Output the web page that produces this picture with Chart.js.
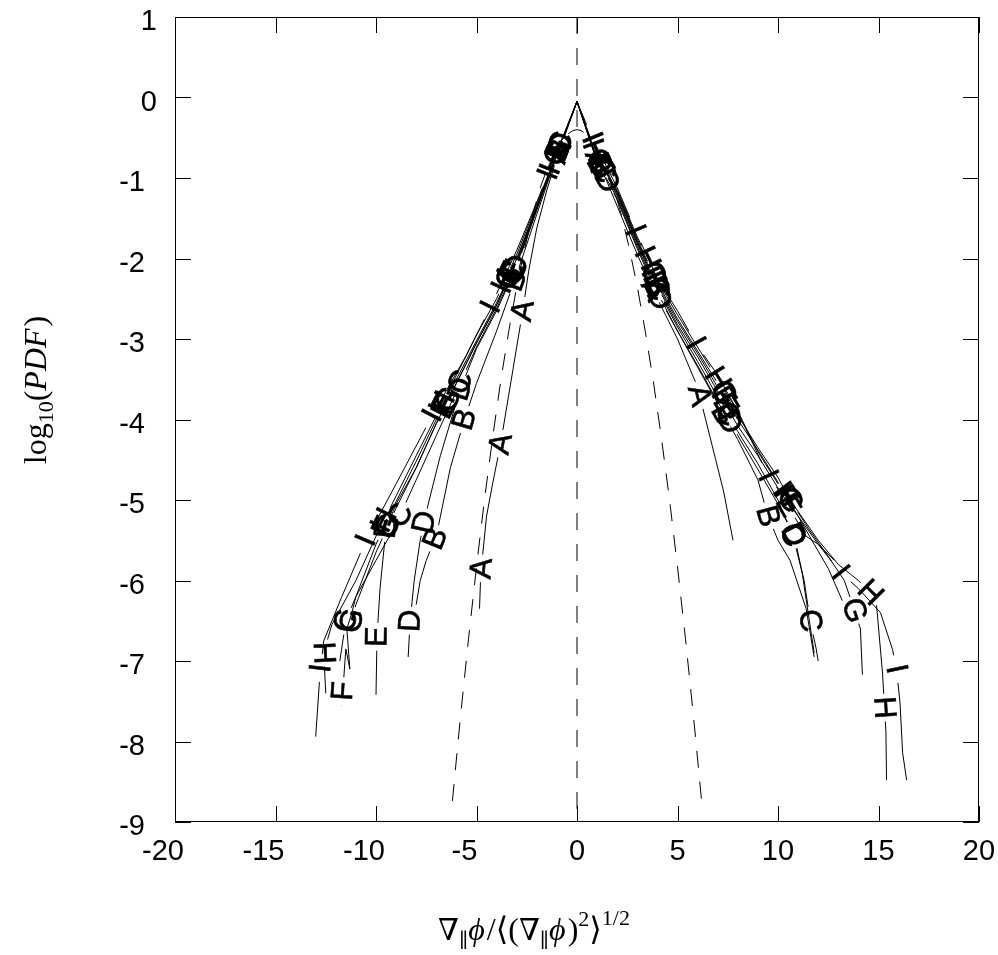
<!DOCTYPE html>
<html>
<head>
<meta charset="utf-8">
<script src="https://cdn.jsdelivr.net/npm/chart.js@4.4.1/dist/chart.umd.min.js"></script>
<style>
  html, body { margin: 0; padding: 0; background: #fff; }
  #wrap { width: 998px; height: 955px; }
</style>
</head>
<body>
<div id="wrap"><canvas id="pdf" width="998" height="955"></canvas></div>
<script>
// log10(PDF) curves, left tail -> peak -> right tail
const xA = [-4.85, -4.8, -4.7, -4.5, -4.2, -3.8, -3.4, -3.0, -2.7, -2.4, -2.0, -1.5, -1.0, -0.5, 0, 0.5, 1.0, 1.5, 2.0, 3.0, 4.0, 5.0, 6.0, 6.4, 6.9, 7.3, 7.76];
const yA = [-6.35, -6.0, -5.7, -5.2, -4.8, -4.3, -3.7, -3.1, -2.65, -2.15, -1.62, -1.15, -0.75, -0.4, -0.05, -0.42, -0.78, -1.05, -1.35, -1.95, -2.5, -3.0, -3.6, -4.0, -4.5, -4.9, -5.5];

const xB = [-8.0, -7.8, -7.5, -7.0, -6.3, -5.6, -5.0, -4.0, -3.0, -2.0, -1.0, 0, 1.0, 2.0, 3.0, 4.0, 5.0, 6.0, 7.0, 8.0, 9.0, 9.5, 10.0, 10.6, 11.4, 11.8];
const yB = [-6.3, -6.0, -5.75, -5.45, -4.6, -4.0, -3.55, -2.9, -2.2, -1.45, -0.72, -0.05, -0.8, -1.25, -1.85, -2.42, -2.9, -3.35, -3.8, -4.25, -4.75, -5.2, -5.5, -5.75, -6.35, -6.95];

const xC = [-11.8, -11.5, -11.0, -10.0, -9.0, -8.0, -7.0, -6.0, -5.0, -4.0, -3.0, -2.0, -1.0, 0, 1.0, 2.0, 3.0, 4.0, 5.0, 6.0, 7.0, 8.0, 9.0, 10.0, 10.8, 11.3, 11.6, 11.9, 12.0];
const yC = [-7.0, -6.5, -6.2, -5.75, -5.3, -4.75, -4.2, -3.65, -3.1, -2.62, -2.08, -1.38, -0.7, -0.05, -0.78, -1.22, -1.82, -2.38, -2.85, -3.28, -3.72, -4.15, -4.55, -5.0, -5.5, -6.0, -6.5, -6.85, -7.0];

const xD = [-8.4, -8.3, -8.1, -7.8, -7.4, -6.8, -5.8, -5.0, -4.0, -3.0, -2.0, -1.0, 0, 1.0, 2.0, 3.0, 4.0, 5.0, 6.0, 7.0, 8.0, 9.0, 10.0, 10.8, 11.2, 11.5, 11.8];
const yD = [-6.95, -6.5, -6.0, -5.5, -5.05, -4.45, -3.62, -3.12, -2.65, -2.1, -1.4, -0.71, -0.05, -0.8, -1.27, -1.88, -2.45, -2.9, -3.33, -3.78, -4.2, -4.62, -5.05, -5.43, -5.9, -6.4, -6.9];

const xE = [-10.0, -9.95, -9.8, -9.5, -9.0, -8.0, -7.0, -6.0, -5.0, -4.0, -3.0, -2.0, -1.0, 0, 1.0, 2.0, 3.0, 4.0, 5.0, 6.0, 7.0, 8.0, 9.0, 10.0, 10.8, 11.4, 12.0, 12.8];
const yE = [-7.42, -6.7, -6.1, -5.35, -5.05, -4.6, -4.05, -3.55, -3.05, -2.58, -2.05, -1.37, -0.7, -0.05, -0.77, -1.2, -1.8, -2.35, -2.82, -3.22, -3.65, -4.08, -4.45, -4.85, -5.2, -5.45, -5.55, -5.75];

const xF = [-11.7, -11.5, -11.3, -11.45, -11.2, -11.0, -10.0, -9.0, -8.0, -7.0, -6.0, -5.0, -4.0, -3.0, -2.0, -1.0, 0, 1.0, 2.0, 3.0, 4.0, 5.0, 6.0, 7.0, 8.0, 9.0, 10.0, 11.0, 11.8, 12.5, 13.2];
const yF = [-7.55, -6.85, -7.1, -6.6, -6.4, -6.2, -5.55, -5.02, -4.52, -4.0, -3.5, -3.02, -2.55, -2.02, -1.36, -0.7, -0.05, -0.76, -1.18, -1.78, -2.33, -2.78, -3.18, -3.6, -4.0, -4.38, -4.78, -5.2, -5.55, -5.85, -6.25];

const xG = [-11.3, -11.0, -10.0, -9.0, -8.0, -7.0, -6.0, -5.0, -4.0, -3.0, -2.0, -1.0, 0, 1.0, 2.0, 3.0, 4.0, 5.0, 6.0, 7.0, 8.0, 9.0, 10.0, 10.6, 11.5, 12.5, 13.3, 13.8, 14.1, 14.2];
const yG = [-6.6, -6.3, -5.65, -5.1, -4.6, -4.05, -3.55, -3.05, -2.58, -2.0, -1.35, -0.69, -0.05, -0.75, -1.17, -1.76, -2.3, -2.75, -3.15, -3.55, -3.95, -4.35, -4.72, -5.0, -5.35, -5.7, -6.0, -6.37, -6.6, -7.17];

const xH = [-12.5, -12.6, -12.2, -11.0, -10.0, -9.0, -8.0, -7.0, -6.0, -5.0, -4.0, -3.0, -2.0, -1.0, 0, 1.0, 2.0, 3.0, 4.0, 5.0, 6.0, 7.0, 8.0, 9.0, 10.0, 10.6, 12.0, 13.0, 14.0, 14.6, 14.9, 15.2, 15.37, 15.4];
const yH = [-7.4, -6.9, -6.55, -6.0, -5.45, -4.95, -4.45, -3.95, -3.45, -2.95, -2.5, -1.95, -1.32, -0.68, -0.05, -0.73, -1.15, -1.73, -2.27, -2.7, -3.1, -3.5, -3.9, -4.4, -4.8, -5.0, -5.5, -5.8, -6.0, -6.15, -6.3, -7.15, -7.88, -8.48];

const xI = [-13.0, -12.8, -12.6, -11.7, -10.5, -9.0, -7.2, -5.5, -4.3, -3.0, -2.0, -1.0, 0, 0.75, 2.0, 2.9, 4.0, 5.0, 5.9, 7.0, 8.0, 9.5, 11.0, 12.0, 13.1, 14.0, 15.1, 15.7, 15.9, 16.07, 16.2, 16.4];
const yI = [-7.94, -7.2, -6.75, -6.2, -5.5, -4.8, -3.95, -3.2, -2.6, -1.9, -1.3, -0.67, -0.05, -0.5, -1.12, -1.65, -2.25, -2.65, -3.05, -3.45, -3.9, -4.7, -5.2, -5.55, -5.9, -6.1, -6.4, -6.86, -7.1, -7.52, -8.14, -8.48];

// x positions where each curve carries its letter
const labA = [-4.75, -3.8, -2.7, -0.9, 1.0, 3.8, 6.1];
const labB = [-7.05, -5.6, -3.1, -0.9, 1.1, 3.9, 7.3, 9.5];
const labC = [-11.5, -8.8, -5.8, -3.2, -0.8, 1.3, 4.0, 7.5, 10.7, 11.6];
const labD = [-8.3, -7.6, -5.8, -3.0, -0.8, 1.5, 4.1, 7.6, 10.8];
const labE = [-9.95, -9.5, -6.6, -3.2, -0.9, 1.2, 3.9, 7.4, 10.5];
const labF = [-11.65, -9.6, -6.6, -3.3, -0.9, 1.2, 3.8, 7.3, 10.4];
const labG = [-11.2, -9.4, -6.4, -3.4, -1.0, 1.1, 3.8, 7.3, 10.6, 13.8];
const labH = [-12.6, -9.6, -6.7, -3.6, -1.2, 0.9, 3.5, 7.0, 10.4, 14.6, 15.3];
const labI = [-12.75, -10.5, -7.2, -4.3, -1.45, 0.75, 2.9, 5.9, 9.5, 13.1, 15.9];

// dashed gaussian reference
const xGauss = [-6.2, -5.8, -5.4, -5.0, -4.6, -4.2, -3.8, -3.4, -3.0, -2.6, -2.2, -1.8, -1.4, -1.0, -0.6, -0.2, 0, 0.2, 0.6, 1.0, 1.4, 1.8, 2.2, 2.6, 3.0, 3.4, 3.8, 4.2, 4.6, 5.0, 5.4, 5.8, 6.2];
const yGauss = [-8.74, -7.70, -6.73, -5.83, -4.99, -4.23, -3.53, -2.91, -2.35, -1.87, -1.45, -1.10, -0.83, -0.62, -0.48, -0.41, -0.40, -0.41, -0.48, -0.62, -0.83, -1.10, -1.45, -1.87, -2.35, -2.91, -3.53, -4.23, -4.99, -5.83, -6.73, -7.70, -8.74];

// dashed line at zero
const xZero = [0, 0];
const yZero = [1, -9];

const xTicks = [-20, -15, -10, -5, 0, 5, 10, 15, 20];
const yTicks = [1, 0, -1, -2, -3, -4, -5, -6, -7, -8, -9];

const curves = [
  ["A", xA, yA, labA], ["B", xB, yB, labB], ["C", xC, yC, labC],
  ["D", xD, yD, labD], ["E", xE, yE, labE], ["F", xF, yF, labF],
  ["G", xG, yG, labG], ["H", xH, yH, labH], ["I", xI, yI, labI]
];

function toPoints(xs, ys) {
  return xs.map((x, i) => ({ x: x, y: ys[i] }));
}

// where the letters sit (pixels) and the slope of the curve there
function labelSpots(chart, index) {
  const ds = chart.data.datasets[index];
  if (!ds.labelAt) return [];
  const sx = chart.scales.x, sy = chart.scales.y;
  const pts = ds.data;
  const out = [];
  ds.labelAt.forEach(lx => {
    for (let i = 0; i < pts.length - 1; i++) {
      const a = pts[i], b = pts[i + 1];
      const lo = Math.min(a.x, b.x), hi = Math.max(a.x, b.x);
      if (lx >= lo && lx <= hi) {
        const t = hi === lo ? 0 : (lx - a.x) / (b.x - a.x);
        const y = a.y + t * (b.y - a.y);
        const ax = sx.getPixelForValue(a.x), ay = sy.getPixelForValue(a.y);
        const bx = sx.getPixelForValue(b.x), by = sy.getPixelForValue(b.y);
        let ang = Math.atan2(by - ay, bx - ax);
        if (ang > Math.PI / 2) ang -= Math.PI;
        if (ang < -Math.PI / 2) ang += Math.PI;
        out.push({ px: sx.getPixelForValue(lx), py: sy.getPixelForValue(y), ang: ang, text: ds.label });
        break;
      }
    }
  });
  return out;
}

const GAP = 14;

const curveLetters = {
  id: "curveLetters",
  beforeDatasetDraw(chart, args) {
    const spots = labelSpots(chart, args.index);
    if (!spots.length) return;
    const ctx = chart.ctx;
    ctx.save();
    ctx.beginPath();
    ctx.rect(0, 0, chart.width, chart.height);
    spots.forEach(s => {
      ctx.moveTo(s.px + GAP, s.py);
      ctx.arc(s.px, s.py, GAP, 0, Math.PI * 2);
    });
    ctx.clip("evenodd");
    args.meta._gapClip = true;
  },
  afterDatasetDraw(chart, args) {
    if (args.meta._gapClip) {
      chart.ctx.restore();
      args.meta._gapClip = false;
    }
  },
  afterDatasetsDraw(chart) {
    const ctx = chart.ctx;
    ctx.save();
    ctx.fillStyle = "#000";
    ctx.strokeStyle = "#000";
    ctx.lineWidth = 0.6;
    ctx.font = '31px "Liberation Sans", Arial, sans-serif';
    ctx.textAlign = "center";
    ctx.textBaseline = "middle";
    chart.data.datasets.forEach((ds, i) => {
      labelSpots(chart, i).forEach(s => {
        ctx.save();
        ctx.translate(s.px, s.py);
        ctx.rotate(s.ang);
        ctx.fillText(s.text, 0, 1);
        ctx.strokeText(s.text, 0, 1);
        ctx.restore();
      });
    });
    ctx.restore();
  }
};

// draws pieces of text one after another, centred on (0,0)
function drawPieces(ctx, pieces) {
  let total = 0;
  pieces.forEach(p => { ctx.font = p.font; p.w = ctx.measureText(p.t).width; total += p.w + (p.sp || 0); });
  let x = -total / 2;
  pieces.forEach(p => {
    ctx.font = p.font;
    ctx.fillText(p.t, x, p.dy || 0);
    x += p.w + (p.sp || 0);
  });
}

const SERIF = '"Liberation Serif", "DejaVu Serif", serif';
const MATH = '"DejaVu Serif", "Liberation Serif", serif';

const frameAndText = {
  id: "frameAndText",
  afterDraw(chart) {
    const ctx = chart.ctx;
    const a = chart.chartArea;
    const sx = chart.scales.x, sy = chart.scales.y;
    ctx.save();
    ctx.strokeStyle = "#000";
    ctx.lineWidth = 1;
    ctx.strokeRect(a.left + 0.5, a.top + 0.5, a.right - a.left - 1, a.bottom - a.top - 1);
    ctx.beginPath();
    xTicks.forEach(v => {
      const p = Math.round(sx.getPixelForValue(v)) + 0.5;
      ctx.moveTo(p, a.bottom); ctx.lineTo(p, a.bottom - 16);
      ctx.moveTo(p, a.top); ctx.lineTo(p, a.top + 16);
    });
    yTicks.forEach(v => {
      const p = Math.round(sy.getPixelForValue(v)) + 0.5;
      ctx.moveTo(a.left, p); ctx.lineTo(a.left + 16, p);
      ctx.moveTo(a.right, p); ctx.lineTo(a.right - 16, p);
    });
    ctx.stroke();

    ctx.fillStyle = "#000";
    ctx.font = '29px "Liberation Sans", Arial, sans-serif';
    ctx.textBaseline = "alphabetic";
    ctx.textAlign = "center";
    xTicks.forEach(v => {
      ctx.fillText(String(v), sx.getPixelForValue(v) + (v < 0 ? -12 : 0), a.bottom + 38);
    });
    ctx.textAlign = "right";
    yTicks.forEach(v => {
      ctx.fillText(String(v), v < 0 ? 145 : 157, sy.getPixelForValue(v) + 13);
    });

    // y title
    ctx.save();
    ctx.translate(46, 390);
    ctx.rotate(-Math.PI / 2);
    ctx.textAlign = "left";
    drawPieces(ctx, [
      { t: "log", font: "32px " + SERIF },
      { t: "10", font: "22px " + SERIF, dy: 7 },
      { t: "(", font: "32px " + SERIF },
      { t: "PDF", font: "italic 32px " + SERIF, sp: 2 },
      { t: ")", font: "32px " + SERIF }
    ]);
    ctx.restore();

    // x title
    ctx.save();
    ctx.translate(534, 940);
    ctx.textAlign = "left";
    drawPieces(ctx, [
      { t: "\u2207", font: "30px " + MATH },
      { t: "\u2225", font: "20px " + MATH, dy: 7 },
      { t: "\u03D5", font: "italic 32px " + SERIF, sp: 2 },
      { t: "/", font: "32px " + SERIF },
      { t: "\u27E8", font: "32px " + MATH },
      { t: "(", font: "32px " + SERIF },
      { t: "\u2207", font: "30px " + MATH },
      { t: "\u2225", font: "20px " + MATH, dy: 7 },
      { t: "\u03D5", font: "italic 32px " + SERIF, sp: 2 },
      { t: ")", font: "32px " + SERIF },
      { t: "2", font: "22px " + SERIF, dy: -14 },
      { t: "\u27E9", font: "32px " + MATH },
      { t: "1/2", font: "22px " + SERIF, dy: -15 }
    ]);
    ctx.restore();
    ctx.restore();
  }
};

const datasets = curves.map(([name, xs, ys, lab]) => ({
  label: name,
  data: toPoints(xs, ys),
  labelAt: lab,
  showLine: true,
  borderColor: "#000",
  borderWidth: 1,
  pointRadius: 0,
  fill: false
}));
datasets.push({
  label: "gauss", data: toPoints(xGauss, yGauss), showLine: true,
  borderColor: "#000", borderWidth: 1, borderDash: [17, 14], pointRadius: 0, fill: false
});
datasets.push({
  label: "zero", data: toPoints(xZero, yZero), showLine: true,
  borderColor: "#000", borderWidth: 1, borderDash: [17, 14], pointRadius: 0, fill: false
});

new Chart(document.getElementById("pdf"), {
  type: "scatter",
  data: { datasets: datasets },
  plugins: [curveLetters, frameAndText],
  options: {
    responsive: false,
    animation: false,
    events: [],
    layout: { padding: { top: 17, right: 19, left: 0, bottom: 0 } },
    plugins: { legend: { display: false }, tooltip: { enabled: false } },
    elements: { line: { tension: 0 } },
    scales: {
      x: {
        type: "linear", min: -20, max: 20,
        grid: { display: false }, border: { display: false },
        ticks: { display: false, stepSize: 5 },
        afterFit: s => { s.height = 133; }
      },
      y: {
        type: "linear", min: -9, max: 1,
        grid: { display: false }, border: { display: false },
        ticks: { display: false, stepSize: 1 },
        afterFit: s => { s.width = 175; }
      }
    }
  }
});
</script>
</body>
</html>
